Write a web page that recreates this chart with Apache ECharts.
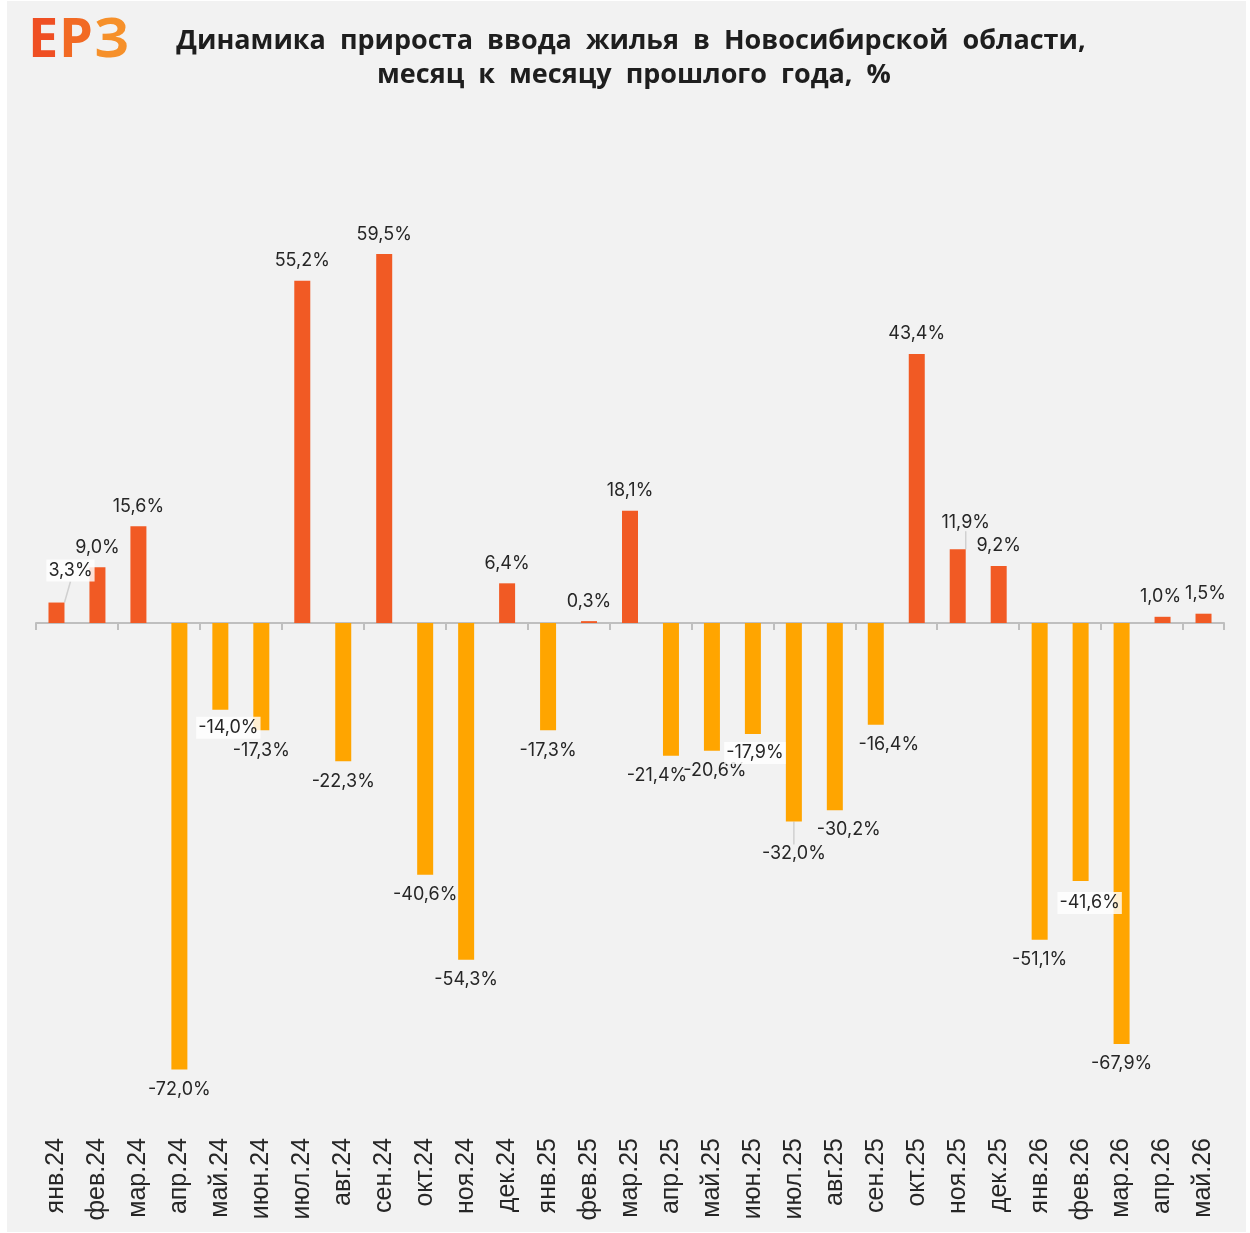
<!DOCTYPE html>
<html>
<head>
<meta charset="UTF-8">
<title>Динамика прироста ввода жилья</title>
<script src="https://cdn.jsdelivr.net/npm/echarts@6/dist/echarts.min.js"></script>
<style>
  html, body { margin: 0; padding: 0; background: #ffffff; }
  #chart { width: 1250px; height: 1233px; }
</style>
</head>
<body>
<div id="chart"></div>
<script>
// категории (месяцы)
var months = ['янв.24', 'фев.24', 'мар.24', 'апр.24', 'май.24', 'июн.24', 'июл.24', 'авг.24', 'сен.24', 'окт.24',
  'ноя.24', 'дек.24', 'янв.25', 'фев.25', 'мар.25', 'апр.25', 'май.25', 'июн.25', 'июл.25', 'авг.25',
  'сен.25', 'окт.25', 'ноя.25', 'дек.25', 'янв.26', 'фев.26', 'мар.26', 'апр.26', 'май.26'];

// прирост к месяцу прошлого года, %
var growth = [3.3, 9.0, 15.6, -72.0, -14.0, -17.3, 55.2, -22.3, 59.5, -40.6,
  -54.3, 6.4, -17.3, 0.3, 18.1, -21.4, -20.6, -17.9, -32.0, -30.2,
  -16.4, 43.4, 11.9, 9.2, -51.1, -41.6, -67.9, 1.0, 1.5];

var colorUp = '#F15A24';
var colorDown = '#FFA500';

// сдвиги подписей, чтобы не налезали друг на друга
var labelShift = {
  0: [14, -10], 4: [8, -4], 15: [-14, 0], 16: [3, 0], 17: [2, -3], 18: [0, 12],
  19: [14, -1], 20: [13, 0], 22: [8, -7], 25: [9, 0], 27: [-2, 0], 28: [2, 0]
};
var withBox = [0, 4, 17, 25];
var withLine = [0, 18, 22];

function fmt(v) {
  return v.toFixed(1).replace('.', ',') + '%';
}

var barData = growth.map(function (v, i) {
  var item = {
    value: v,
    itemStyle: { color: v >= 0 ? colorUp : colorDown },
    label: { position: v >= 0 ? 'top' : 'bottom' }
  };
  if (withBox.indexOf(i) >= 0) {
    item.label.backgroundColor = 'rgba(255,255,255,0.82)';
    item.label.padding = [2, 2];
  }
  if (withLine.indexOf(i) >= 0) {
    item.labelLine = { show: true };
  }
  return item;
});

// логотип: буквы с переходом от красного к оранжевому
var logoFont = 'bold 54px "Open Sans"';
var logo = [
  { ch: 'Е', x: 28, color: '#EF4F23' },
  { ch: 'Р', x: 59, color: '#F26A24' },
  { ch: 'З', x: 94, color: '#F6902A' }
].map(function (l) {
  return {
    type: 'text',
    x: l.x,
    y: 42,
    style: { text: l.ch, font: logoFont, fill: l.color, verticalAlign: 'middle' }
  };
});

var myChart = echarts.init(document.getElementById('chart'));

myChart.setOption({
  backgroundColor: '#ffffff',
  animation: false,
  graphic: [{
    type: 'rect',
    z: -10,
    shape: { x: 7, y: 1, width: 1239, height: 1231 },
    style: { fill: '#F2F2F2' }
  }].concat(logo).concat([{
    type: 'text',
    x: 631,
    y: 41,
    style: {
      text: 'Динамика  прироста  ввода  жилья  в  Новосибирской  области,',
      font: 'bold 27px "Open Sans"',
      fill: '#1E1E1E',
      align: 'center',
      verticalAlign: 'middle'
    }
  }, {
    type: 'text',
    x: 634,
    y: 75,
    style: {
      text: 'месяц  к  месяцу  прошлого  года,  %',
      font: 'bold 27px "Open Sans"',
      fill: '#1E1E1E',
      align: 'center',
      verticalAlign: 'middle'
    }
  }]),
  grid: {
    left: 36,
    width: 1188,
    top: 189,
    height: 930
  },
  xAxis: [{
    type: 'category',
    data: months,
    position: 'bottom',
    axisLine: { onZero: true, lineStyle: { color: '#BFBFBF', width: 2 } },
    axisTick: { show: true, length: 7, lineStyle: { color: '#BFBFBF', width: 2 } },
    axisLabel: { show: false },
    splitLine: { show: false }
  }, {
    type: 'category',
    data: months,
    position: 'bottom',
    axisLine: { show: false, onZero: false },
    axisTick: { show: false },
    axisLabel: {
      rotate: 90,
      interval: 0,
      margin: 19,
      fontSize: 25,
      fontFamily: 'Liberation Sans',
      color: '#262626'
    },
    splitLine: { show: false }
  }],
  yAxis: {
    type: 'value',
    min: -80,
    max: 70,
    show: false,
    splitLine: { show: false }
  },
  series: [{
    name: 'Прирост',
    type: 'bar',
    xAxisIndex: 0,
    barWidth: 16,
    data: barData,
    label: {
      show: true,
      distance: 11,
      fontSize: 18,
      fontFamily: 'Inter',
      color: '#262626',
      formatter: function (p) { return fmt(p.value); }
    },
    labelLine: {
      show: false,
      lineStyle: { color: '#D0D0D0', width: 1.5 }
    },
    labelLayout: function (params) {
      var s = labelShift[params.dataIndex];
      return s ? { dx: s[0], dy: s[1] } : {};
    }
  }]
});
</script>
</body>
</html>
